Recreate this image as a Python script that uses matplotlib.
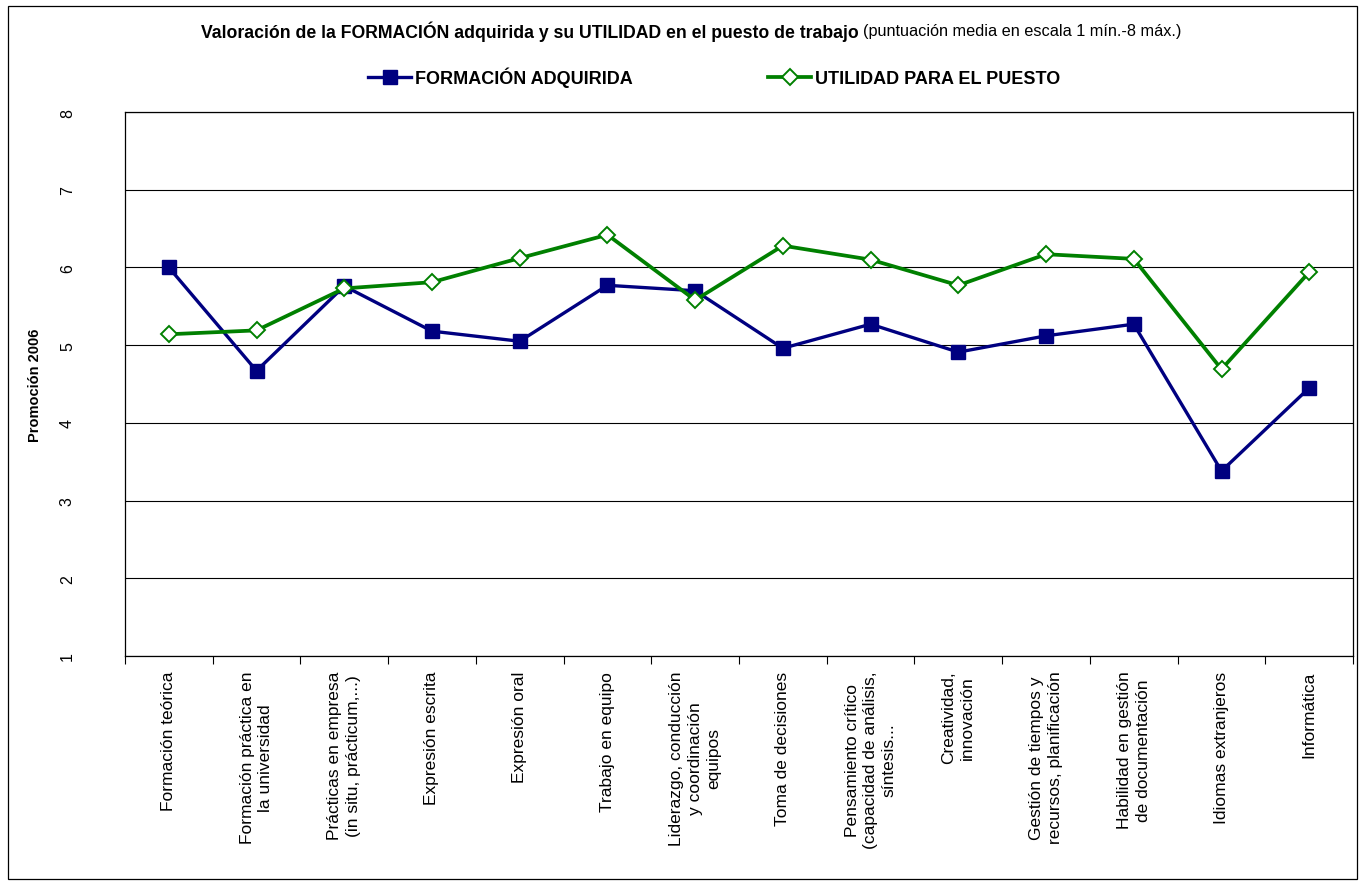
import matplotlib
matplotlib.use('Agg')
import matplotlib.pyplot as plt
from matplotlib.patches import Rectangle
import numpy as np

plt.rcParams['font.family'] = ['Liberation Sans', 'DejaVu Sans']

categories = [
    'Formación teórica',
    'Formación práctica en\nla universidad',
    'Prácticas en empresa\n(in situ, prácticum,...)',
    'Expresión escrita',
    'Expresión oral',
    'Trabajo en equipo',
    'Liderazgo, conducción\ny coordinación\nequipos',
    'Toma de decisiones',
    'Pensamiento crítico\n(capacidad de análisis,\nsíntesis...',
    'Creatividad,\ninnovación',
    'Gestión de tiempos y\nrecursos, planificación',
    'Habilidad en gestión\nde documentación',
    'Idiomas extranjeros',
    'Informática',
]
formacion = [6.00, 4.67, 5.76, 5.18, 5.05, 5.77, 5.70, 4.96, 5.27, 4.91, 5.12, 5.27, 3.38, 4.45]
utilidad = [5.14, 5.19, 5.73, 5.81, 6.12, 6.42, 5.58, 6.28, 6.10, 5.77, 6.17, 6.11, 4.69, 5.94]
yticks = [1, 2, 3, 4, 5, 6, 7, 8]

fig = plt.figure(figsize=(13.64, 8.87), dpi=100)
fig.patches.append(Rectangle((0.006, 0.008), 0.989, 0.984, transform=fig.transFigure,
                             fill=False, edgecolor='black', lw=0.9))
ax = fig.add_axes([0.0916, 0.2593, 0.9004, 0.6133])

x = np.arange(len(categories))
ax.plot(x, formacion, color='#000080', lw=2.4, marker='s', ms=10,
        mfc='#000080', mec='#000080', label='FORMACIÓN ADQUIRIDA')
ax.plot(x, utilidad, color='#008000', lw=2.7, marker='D', ms=8,
        mfc='white', mec='#008000', mew=1.4, label='UTILIDAD PARA EL PUESTO')

ax.set_xlim(-0.5, len(categories) - 0.5)
ax.set_ylim(1, 8)
ax.set_yticks(yticks)
ax.yaxis.grid(True, color='black', lw=0.8)
ax.set_axisbelow(True)
ax.tick_params(axis='y', length=0, labelrotation=90, pad=36, labelsize=11.5)
for lab in ax.get_yticklabels():
    lab.set_va('center')

ax.set_xticks(np.arange(len(categories) + 1) - 0.5)
ax.set_xticklabels([])
ax.tick_params(axis='x', length=6, direction='out')
for i, c in enumerate(categories):
    ax.text(i, -0.027, c, transform=ax.get_xaxis_transform(), rotation=90,
            ha='center', va='top', fontsize=12.5, multialignment='center',
            linespacing=1.3)

ax.set_ylabel('Promoción 2006', fontweight='bold', fontsize=10.5, labelpad=13)

for s in ax.spines.values():
    s.set_color('black')
    s.set_linewidth(0.9)

leg = fig.legend(loc='center', bbox_to_anchor=(0.5235, 0.912), ncol=2, frameon=False,
                 columnspacing=7.5, handlelength=2.4, handletextpad=0.2,
                 prop={'weight': 'bold', 'size': 13})

fig.canvas.draw()
r = fig.canvas.get_renderer()
t1 = fig.text(0, 0.964, 'Valoración de la FORMACIÓN adquirida y su UTILIDAD en el puesto de trabajo ',
              fontweight='bold', fontsize=12.7, va='center', ha='left')
t2 = fig.text(0, 0.964, '(puntuación media en escala 1 mín.-8 máx.)',
              fontsize=11.7, va='center', ha='left')
w1 = t1.get_window_extent(r).width
w2 = t2.get_window_extent(r).width
W = fig.bbox.width
x0 = (0.5066 * W - (w1 + w2) / 2) / W
t1.set_x(x0)
t2.set_x(x0 + w1 / W)

fig.savefig('out.png', dpi=100)
